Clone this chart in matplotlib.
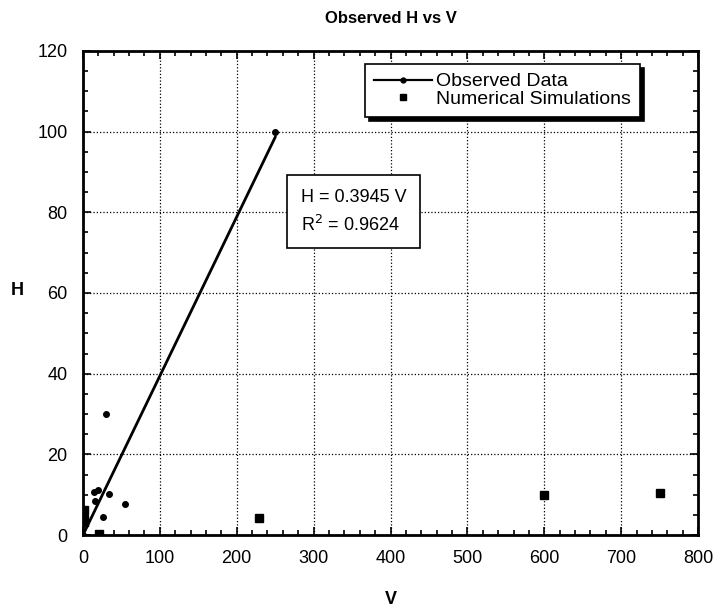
import numpy as np
import matplotlib.pyplot as plt
from matplotlib.lines import Line2D
from matplotlib.ticker import MultipleLocator

plt.rcParams['font.family'] = ['Liberation Sans', 'DejaVu Sans']

# observed data (V, H)
obs_v = [0, 14.7, 19.5, 34.2, 15.6, 54.6, 25.6, 30, 250]
obs_h = [0, 10.7, 11.2, 10.1, 8.4, 7.6, 4.4, 30.0, 100]

# numerical simulations (V, H)
sim_v = [1.3, 1.3, 1.3, 21, 229, 600, 750]
sim_h = [6.2, 4.0, 3.3, 0.25, 4.1, 9.9, 10.3]

slope = 0.3945
r2 = 0.9624
fit_v = np.array([0, 250])

fig = plt.figure(figsize=(7.16, 6.07), dpi=100)
ax = fig.add_axes([0.1159, 0.1186, 0.8590, 0.7974])

ax.plot(fit_v, slope * fit_v, color='black', lw=2, zorder=3)
ax.plot(obs_v, obs_h, 'o', color='black', ms=4, zorder=4)
ax.plot(sim_v, sim_h, 's', color='black', ms=5.5, zorder=4)

ax.set_xlim(0, 800)
ax.set_ylim(0, 120)
ax.xaxis.set_major_locator(MultipleLocator(100))
ax.xaxis.set_minor_locator(MultipleLocator(20))
ax.yaxis.set_major_locator(MultipleLocator(20))
ax.yaxis.set_minor_locator(MultipleLocator(5))
ax.tick_params(which='both', direction='in', top=True, right=True,
               labelsize=13, width=1.2, color='black')
ax.tick_params(which='major', length=6)
ax.tick_params(axis='x', which='major', pad=11)
ax.tick_params(axis='y', which='major', pad=11)
ax.tick_params(which='minor', length=3.5)
ax.grid(True, which='major', linestyle=':', color='black', lw=0.9)
for s in ax.spines.values():
    s.set_linewidth(2)

ax.set_title('Observed H vs V', fontsize=12, fontweight='bold', pad=20)
ax.set_xlabel('V', fontsize=13, fontweight='bold')
ax.xaxis.set_label_coords(0.5, -0.115)
ax.set_ylabel('H', fontsize=13, fontweight='bold', rotation=0, ha='center', va='center')
ax.yaxis.set_label_coords(-0.107, 0.506)

ax.text(283, 74.5, 'H = 0.3945 V\nR$^2$ = 0.9624', fontsize=13,
        linespacing=1.55, va='bottom', ha='left',
        bbox=dict(boxstyle='square,pad=0.75', fc='white', ec='black', lw=1.2),
        zorder=5)

handles = [Line2D([], [], color='black', lw=1.6, marker='o', ms=3.5),
           Line2D([], [], color='black', ls='none', marker='s', ms=5)]
leg = ax.legend(handles, ['Observed Data', 'Numerical Simulations'],
                loc='upper left', bbox_to_anchor=(0.4585, 0.973),
                borderaxespad=0, fancybox=False, framealpha=1,
                edgecolor='black', fontsize=14, handlelength=3.0,
                labelspacing=0.0, borderpad=0.45, handletextpad=0.2,
                shadow={'color': 'black', 'alpha': 1, 'ox': 3, 'oy': -3})
leg.get_frame().set_linewidth(1.2)

fig.savefig('out.png', dpi=100)
